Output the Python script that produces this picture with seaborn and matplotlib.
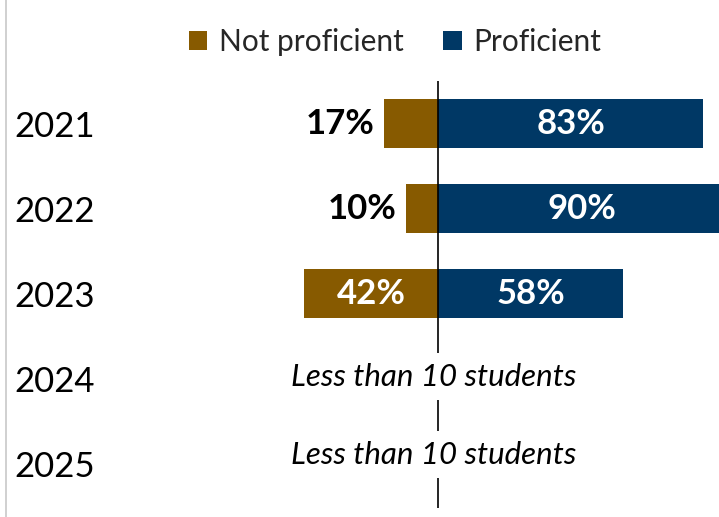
import matplotlib
matplotlib.use("Agg")
import matplotlib.pyplot as plt
from matplotlib.lines import Line2D
import seaborn as sns
import pandas as pd

# Share of students by proficiency level, per year
years = ["2021", "2022", "2023", "2024", "2025"]
data_years = ["2021", "2022", "2023"]
not_proficient = [17, 10, 42]
proficient = [83, 90, 58]
suppressed_years = ["2024", "2025"]
suppressed_note = "Less than 10 students"
groups = ["Not proficient", "Proficient"]
colors = {"Not proficient": "#875A00", "Proficient": "#003865"}

rows = []
for y, npv, pv in zip(data_years, not_proficient, proficient):
    rows.append({"year": y, "group": "Not proficient", "value": npv, "signed": -npv})
    rows.append({"year": y, "group": "Proficient", "value": pv, "signed": pv})
df = pd.DataFrame(rows)

sns.set_theme(style="white")
plt.rcParams["font.family"] = ["Lato", "DejaVu Sans"]

W, H = 719, 517
fig = plt.figure(figsize=(W / 100, H / 100), dpi=100)
ax = fig.add_axes([110 / W, 1 - 508 / H, (W - 110) / W, (508 - 81) / H])

sns.barplot(
    data=df, y="year", x="signed", hue="group", order=years,
    hue_order=groups, palette=colors, dodge=False, width=0.57,
    orient="h", ax=ax, saturation=1, linewidth=0,
)

px_per_pct = 3.19
ax.set_xlim((110 - 438.3) / px_per_pct, (W - 438.3) / px_per_pct)
ax.set_ylim(4.52, -0.5)

# center divider
ax.axvline(0, color="black", lw=1.2, zorder=1)

# value labels
for i, (npv, pv) in enumerate(zip(not_proficient, proficient)):
    if npv < 20:
        ax.annotate(f"{npv}%", (-npv, i), xytext=(-7, 0), textcoords="offset points",
                    ha="right", va="center", fontsize=25, fontweight="bold", color="black")
    else:
        ax.text(-npv / 2, i, f"{npv}%", ha="center", va="center",
                fontsize=25, fontweight="bold", color="white")
    ax.text(pv / 2, i, f"{pv}%", ha="center", va="center",
            fontsize=25, fontweight="bold", color="white")

# notes for years with too few students
for y, dy in zip(suppressed_years, [1.5, 6.5]):
    idx = years.index(y)
    ax.annotate(suppressed_note, (-1.5, idx), xytext=(0, dy), textcoords="offset points",
                ha="center", va="center", fontsize=22.5, style="italic", color="black",
                bbox=dict(fc="white", ec="none", pad=7), zorder=3)

ax.set_xlabel("")
ax.set_ylabel("")
ax.set_xticks([])
ax.tick_params(axis="y", length=0, pad=11, labelsize=25)
for lab in ax.get_yticklabels():
    lab.set_color("black")
sns.despine(ax=ax, left=True, bottom=True)

sns.move_legend(
    ax, "center", bbox_to_anchor=(395 / W, 1 - 42 / H), bbox_transform=fig.transFigure,
    ncol=2, frameon=False, title=None, fontsize=21.5, handlelength=0.63,
    handleheight=0.63, handletextpad=0.4, columnspacing=1.3,
)

# thin frame line on the left edge
fig.add_artist(Line2D([6 / W, 6 / W], [0, 1], color="#C8C8C8", lw=1.2,
                      transform=fig.transFigure))

fig.savefig("out.png", dpi=100)
